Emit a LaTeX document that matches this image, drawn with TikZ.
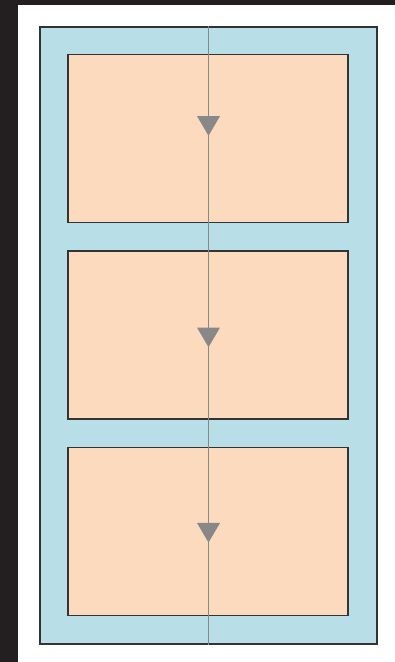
\documentclass[tikz,border=0pt]{standalone}
\usetikzlibrary{arrows.meta, positioning, decorations.markings}
\definecolor{laneblue}{RGB}{184,222,232}
\definecolor{stepfill}{RGB}{252,218,190}
\definecolor{rimgray}{RGB}{51,51,51}
\definecolor{flowgray}{RGB}{136,136,136}
\definecolor{framedark}{RGB}{35,31,32}

\begin{document}
\begin{tikzpicture}[x=0.02cm, y=-0.02cm,
    lanebox/.style={draw=rimgray, fill=laneblue, line width=0.8pt, inner sep=0pt,
      minimum width=6.74cm, minimum height=12.34cm},
    stagebox/.style={draw=rimgray, fill=stepfill, line width=0.8pt, inner sep=0pt,
      minimum width=5.6cm, minimum height=3.36cm}]
    % frame and page
    \useasboundingbox (0,0) rectangle (395,662);
    \fill[white] (0,0) rectangle (395,662);
    \fill[framedark] (0,0) rectangle (18,662);
    \fill[framedark] (0,0) rectangle (395,5);
    % lane with three stages
    \node[lanebox] (lane) at (208.5,335.5) {};
    \node[stagebox] (stage1) at (208,138.5) {};
    \node[stagebox] (stage2) at (208,335) {};
    \node[stagebox] (stage3) at (208,531.5) {};
    % flow line through the stages
    \draw[flowgray, line width=1.1pt, postaction={decorate},
      decoration={markings,
        mark=at position 0.177 with {\arrow{Triangle[width=12.8pt,length=11.2pt]}},
        mark=at position 0.519 with {\arrow{Triangle[width=12.8pt,length=11.2pt]}},
        mark=at position 0.835 with {\arrow{Triangle[width=12.8pt,length=11.2pt]}}}]
      (lane.north) -- (lane.south);
\end{tikzpicture}
\end{document}
